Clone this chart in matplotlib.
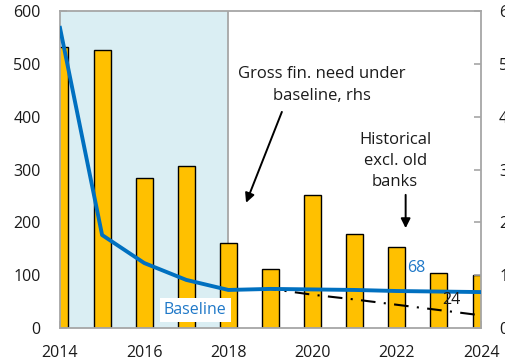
import matplotlib
matplotlib.use("Agg")
import matplotlib.pyplot as plt
import numpy as np

years = [2014, 2015, 2016, 2017, 2018, 2019, 2020, 2021, 2022, 2023, 2024]
bars = [532, 526, 283, 306, 160, 112, 251, 177, 154, 104, 101]
baseline = [568, 176, 123, 91, 72, 74, 73, 72, 70, 69, 68]
hist_years = [2018, 2019, 2020, 2021, 2022, 2023, 2024]
hist = [72, 74, 63, 54, 44, 34, 24]
left_ticks = [0, 100, 200, 300, 400, 500, 600]
xtick_labels = [2014, 2016, 2018, 2020, 2022, 2024]

plt.rcParams['font.family'] = ['Open Sans', 'DejaVu Sans']
fig = plt.figure(figsize=(5.05, 3.64), dpi=100)
ax = fig.add_axes([60/505, 1-328/364, 421/505, 317/364])

spine_c = '#a6a6a6'
txt_c = '#1a1a1a'
fs = 11.5
ax.axvspan(2014, 2018, color='#DAEEF3', zorder=0, lw=0)
ax.axvline(2018, color=spine_c, lw=1.3, zorder=1)
ax.bar(years, bars, width=0.4, color='#FFC000', edgecolor='black', lw=1.0, zorder=2)
ax.plot(hist_years, hist, color='black', lw=1.5, ls=(0, (7, 4, 1, 4)), zorder=3)
ax.plot(years, baseline, color='#0070C0', lw=2.8, zorder=4)

ax.set_xlim(2014, 2024)
ax.set_ylim(0, 600)
ax.set_xticks(years)
ax.set_xticklabels([str(y) if y in xtick_labels else '' for y in years])
ax.set_yticks(left_ticks)
ax.tick_params(axis='both', direction='in', length=5, width=1.2, color=spine_c,
               labelsize=fs, labelcolor=txt_c)
ax.tick_params(axis='x', pad=12.5)
ax.tick_params(axis='y', pad=14)
for s in ax.spines.values():
    s.set_color(spine_c)
    s.set_linewidth(1.3)

ax2 = ax.twinx()
ax2.set_ylim(0, 600)
ax2.set_yticks(left_ticks)
ax2.tick_params(axis='y', direction='in', length=5, width=1.2, color=spine_c,
                labelsize=fs, labelcolor=txt_c, pad=13)
for s in ax2.spines.values():
    s.set_visible(False)

ax.text(2016.47, 34, 'Baseline', color='#1F78C8', fontsize=fs, ha='left', va='center',
        zorder=6, bbox=dict(facecolor='white', edgecolor='none', pad=3))
ax.text(2022.25, 114, '68', color='#1F78C8', fontsize=fs, ha='left', va='center', zorder=6)
ax.text(2023.08, 53, '24', color=txt_c, fontsize=fs, ha='left', va='center', zorder=6)

ax.text(2020.22, 460, 'Gross fin. need under\nbaseline, rhs', ha='center', va='center',
        fontsize=12, color=txt_c, linespacing=1.45)
ax.annotate('', xy=(2018.42, 237), xytext=(2019.27, 409),
            arrowprops=dict(arrowstyle='-|>', color='black', lw=1.4, mutation_scale=14,
                            shrinkA=0, shrinkB=0))
ax.text(2021.96, 316, 'Historical\nexcl. old\nbanks', ha='center', va='center',
        fontsize=12, color=txt_c, linespacing=1.45)
ax.annotate('', xy=(2022.21, 189), xytext=(2022.21, 252),
            arrowprops=dict(arrowstyle='-|>', color='black', lw=1.4, mutation_scale=14,
                            shrinkA=0, shrinkB=0))

fig.savefig('out.png', dpi=100)
